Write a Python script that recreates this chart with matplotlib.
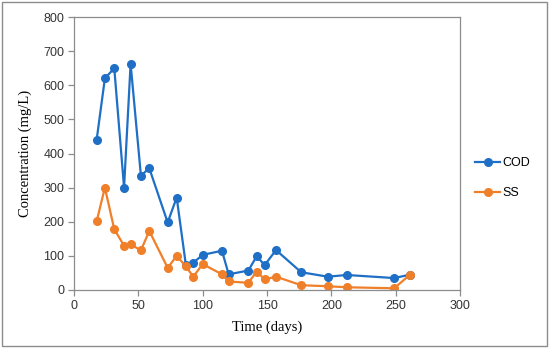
"""COD and SS concentration over time."""

import matplotlib
matplotlib.use("Agg")
import matplotlib.pyplot as plt
from matplotlib.patches import Rectangle

days = [17.6, 24, 31.3, 38.9, 44, 52, 58.5, 72.8, 79.8, 87, 92.7, 100, 115,
        120.2, 135.5, 142, 148.2, 157, 176.6, 197.3, 212, 248.8, 261.2]
cod = [440, 620, 650, 300, 663, 335, 357, 198, 271, 72, 80, 103, 115,
       46, 57, 99, 73, 117, 52, 39, 44, 35, 45]
ss = [201, 300, 178, 130, 134, 116, 173, 65, 100, 69, 39, 76, 46,
      25, 21, 54, 31, 39, 14, 11, 8, 5, 45]

x_ticks = [0, 50, 100, 150, 200, 250, 300]
y_ticks = [0, 100, 200, 300, 400, 500, 600, 700, 800]

BLUE = "#1f6fc6"
ORANGE = "#f07f2a"
GRAY = "#8c8c8c"
SERIF = ["Liberation Serif", "DejaVu Serif"]
SANS = ["Liberation Sans", "DejaVu Sans"]


def main() -> None:
    fig = plt.figure(figsize=(5.5, 3.53), dpi=100)
    W, H = 550, 353
    ax = fig.add_axes([74 / W, 1 - 290 / H, (460 - 74) / W, (290 - 17) / H])

    ax.plot(days, cod, color=BLUE, lw=1.6, marker="o", ms=5.5, label="COD")
    ax.plot(days, ss, color=ORANGE, lw=1.6, marker="o", ms=5.5, label="SS")

    ax.set_xlim(0, 300)
    ax.set_ylim(0, 800)
    ax.set_xticks(x_ticks)
    ax.set_yticks(y_ticks)
    for s in ax.spines.values():
        s.set_color(GRAY)
        s.set_linewidth(0.9)
    ax.tick_params(direction="out", length=4, width=0.9, color=GRAY,
                   labelsize=9, labelcolor="#333333", pad=3)
    for lbl in ax.get_xticklabels() + ax.get_yticklabels():
        lbl.set_family(SANS)

    ax.set_xlabel("Time (days)", family=SERIF, fontsize=10.5, labelpad=6)
    ax.set_ylabel("Concentration (mg/L)", family=SERIF, fontsize=10.5, labelpad=8)

    ax.legend(loc="center left", bbox_to_anchor=(1.01, 0.41), frameon=False,
              prop={"family": SANS, "size": 9}, handlelength=2.0,
              handletextpad=0.2, labelspacing=1.45)

    # Outer chart border
    fig.patches.append(Rectangle((2 / W, 1 - 346 / H), 545 / W, 344 / H,
                                 transform=fig.transFigure, fill=False,
                                 edgecolor=GRAY, lw=1.0))

    fig.savefig("out.png", dpi=100)


if __name__ == "__main__":
    main()
